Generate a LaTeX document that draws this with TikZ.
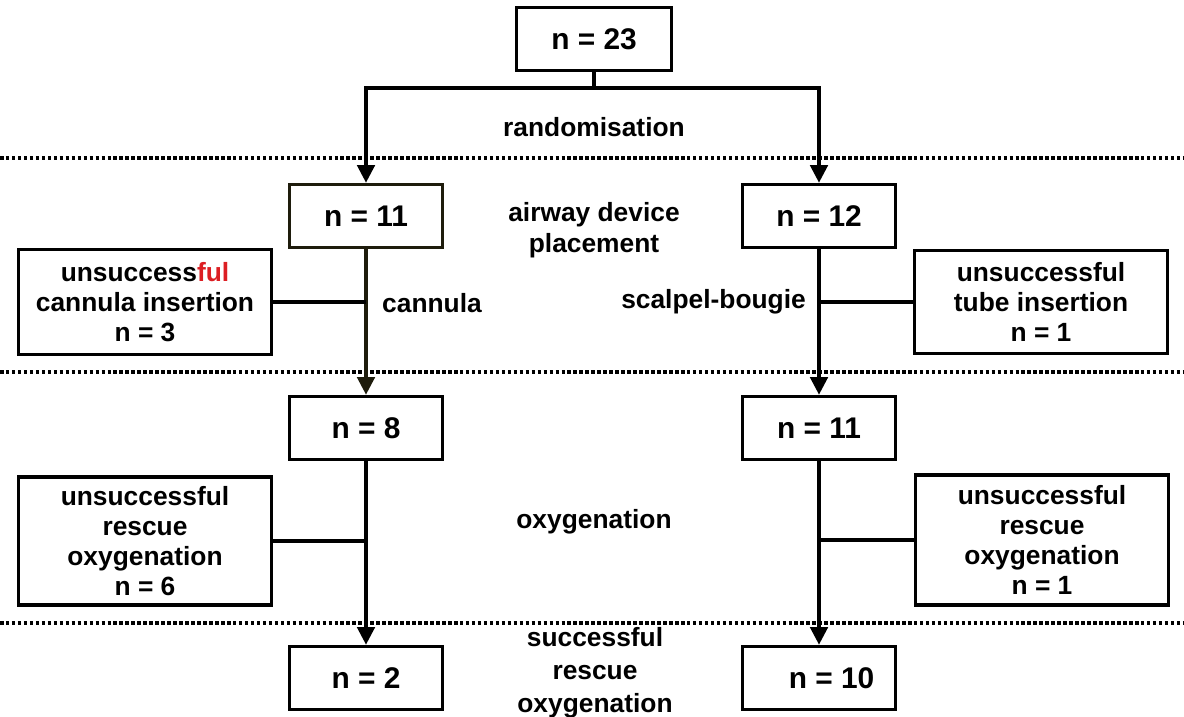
\documentclass[tikz,border=0pt]{standalone}
\usepackage{fontspec}
\setmainfont{Liberation Sans}
\usetikzlibrary{arrows.meta}
\definecolor{redful}{RGB}{220,30,35}
\definecolor{darkolive}{RGB}{30,28,12}
\tikzset{
  nbox/.style={draw, line width=1.8pt, inner sep=0pt, minimum width=3.05cm, minimum height=1.27cm,
    font=\fontsize{17}{20}\selectfont\bfseries},
  failbox/.style={draw, line width=1.8pt, inner sep=0pt, minimum width=5.05cm, align=center,
    font=\fontsize{15}{17}\selectfont\bfseries},
  lbl/.style={align=center, font=\fontsize{15}{17.5}\selectfont\bfseries},
  flow/.style={line width=1.8pt},
  arr/.style={line width=1.8pt, -{Triangle[width=10pt,length=10pt]}},
  sep/.style={line width=2pt, dash pattern=on 2pt off 1.4pt}
}
\begin{document}
\begin{tikzpicture}[x=0.02cm, y=-0.02cm]
  \useasboundingbox (0,0) rectangle (1184,717);

  \draw[sep] (0,158) -- (1184,158);
  \draw[sep] (0,372) -- (1184,372);
  \draw[sep] (0,623) -- (1184,623);

  \node[nbox, minimum width=3.1cm] (all) at (594,39) {n = 23};
  \node[nbox, draw=darkolive] (c11) at (366,216) {n = 11};
  \node[nbox] (s12) at (819,216) {n = 12};
  \node[nbox] (c8) at (366,428) {n = 8};
  \node[nbox] (s11) at (819,428) {n = 11};
  \node[nbox] (c2) at (366,678) {n = 2};
  \node[nbox] (s10) at (819,678) {\hspace{0.5cm}n = 10};

  \node[failbox, minimum height=2.1cm] (cfail) at (145,302)
    {unsuccess\textcolor{redful}{ful}\\cannula insertion\\n = 3};
  \node[failbox, minimum height=2.06cm] (sfail) at (1041,302)
    {unsuccessful\\tube insertion\\n = 1};
  \node[failbox, minimum height=2.56cm] (cres) at (145,541)
    {unsuccessful\\rescue\\oxygenation\\n = 6};
  \node[failbox, minimum height=2.6cm] (sres) at (1042,540)
    {unsuccessful\\rescue\\oxygenation\\n = 1};

  \node[lbl] (rand) at (594,127) {randomisation};
  \node[lbl] (place) at (594,230) {airway device\\placement};
  \node[lbl] (oxy) at (594,522) {oxygenation};
  \node[lbl, font=\fontsize{15}{18.7}\selectfont\bfseries] (succ) at (595,673)
    {successful\\rescue\\oxygenation};
  \node[lbl, anchor=west] (cann) at (376,303) {cannula};
  \node[lbl, anchor=east] (scal) at (812,302) {scalpel-bougie};

  \coordinate (split) at (594,88);
  \draw[flow] (all.south) -- (split);
  \draw[arr] (split) -| (c11.north);
  \draw[arr] (split) -| (s12.north);

  \draw[arr, draw=darkolive] (c11.south) -- (c8.north);
  \draw[flow] (cfail.east) -- (cfail.east -| c11.south);
  \draw[arr] (s12.south) -- (s11.north);
  \draw[flow] (sfail.west) -- (sfail.west -| s12.south);

  \draw[arr] (c8.south) -- (c2.north);
  \draw[flow] (cres.east) -- (cres.east -| c8.south);
  \draw[arr] (s11.south) -- (s10.north);
  \draw[flow] (sres.west) -- (sres.west -| s11.south);
\end{tikzpicture}
\end{document}
